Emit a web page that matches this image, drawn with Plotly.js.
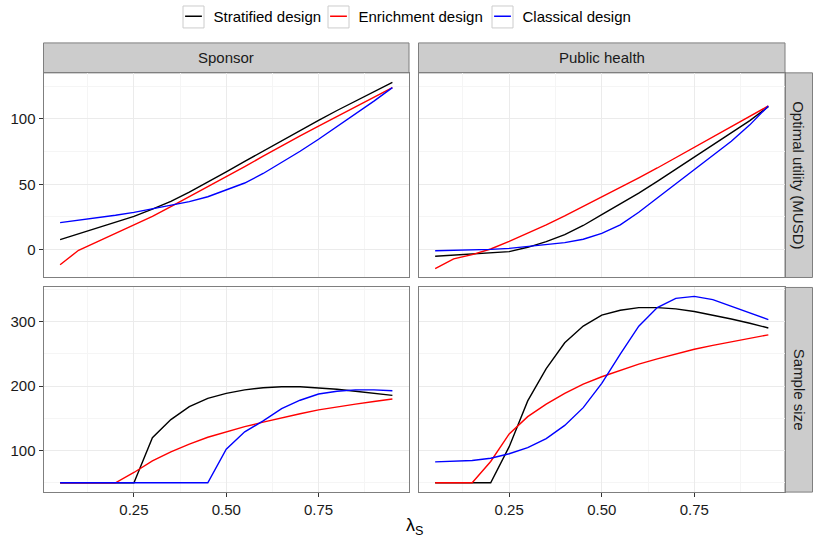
<!DOCTYPE html>
<html>
<head>
<meta charset="utf-8">
<script src="https://cdn.plot.ly/plotly-3.0.1.min.js"></script>
<style>html,body{margin:0;padding:0;background:#fff;}#chart{width:813px;height:540px;}</style>
</head>
<body>
<div id="chart"></div>
<script>
// ---- data ----
var lambdaS = [0.05,0.10,0.15,0.20,0.25,0.30,0.35,0.40,0.45,0.50,0.55,0.60,0.65,0.70,0.75,0.80,0.85,0.90,0.95];
var designs = ["Stratified design","Enrichment design","Classical design"];
var colTitles = ["Sponsor","Public health"];
var rowTitles = ["Optimal utility (MUSD)","Sample size"];
var xTicks = [0.25,0.50,0.75];
var xTickLabels = ["0.25","0.50","0.75"];
var utilTicks = [0,50,100];
var sizeTicks = [100,200,300];

var sponsorUtilStrat  = [7.7,12,16.5,21,25.5,31,37,44,51.5,59.5,67.5,75.5,83.5,91.5,99,106.5,113.5,120.8,128];
var sponsorUtilEnrich = [-11.5,-0.5,6,12.5,19,25.5,33,40.5,48,55.8,63.5,71.5,79.5,87,94.5,102,109.5,117,124];
var sponsorUtilClass  = [20.7,22.5,24.3,26.3,28.5,31.3,33.8,36.8,40.5,45.5,51,58.3,66.5,75.3,84.5,94,103.7,113.7,124];

var phUtilStrat  = [-5.1,-4.2,-3.3,-2.5,-1.5,1.8,6.2,11.5,18.5,26.8,34.8,43.2,52.2,61.4,70.6,79.8,89,98.8,109.4];
var phUtilEnrich = [-14.5,-7,-3.8,0.5,6.4,12.5,19,25.8,33,40.5,47.7,55,62.5,70.5,78.5,86.2,94,102,110];
var phUtilClass  = [-0.8,-0.6,-0.3,0.2,1,2.3,3.6,5.4,8,12.5,19,28.6,39.5,50.5,61.7,72.5,83,95.5,110];

var sponsorNStrat  = [50,50,50,50,50,120,148,168,181,188.7,194,197.4,199,199,197.4,195,192,188.7,185.6];
var sponsorNEnrich = [50,50,50,50,66,84,98,110,120.6,129,137,144,151,157,163,168,172,176,180];
var sponsorNClass  = [50,50,50,50,50,50,50,50,50,102,129,146,165,178,187.6,192,194,194,192.8];

var phNStrat  = [50,50,50,50,106,177,227,267,293,310,317.5,321.6,321.6,319.6,315.5,310,304,297.4,290];
var phNEnrich = [50,50,50,83,125.8,152.6,172,188.7,203,214.4,224.7,234,242,250,257,263,268.6,273.7,279.4];
var phNClass  = [82.5,83,84.5,88,95,104.6,118.6,139,166.5,204,249.5,292.8,321.6,336,339,334,323.7,313.4,303];

// ---- style ----
var colors = ["#000000","#FF0000","#0000FF"];
var W = 813, H = 540;
function px(x){return x/W;}
function py(y){return 1 - y/H;}
var FONT = "Liberation Sans, Arial, Helvetica, sans-serif";

var panels = [
  {xa:"x",  ya:"y",  series:[sponsorUtilStrat,sponsorUtilEnrich,sponsorUtilClass]},
  {xa:"x2", ya:"y2", series:[phUtilStrat,phUtilEnrich,phUtilClass]},
  {xa:"x3", ya:"y3", series:[sponsorNStrat,sponsorNEnrich,sponsorNClass]},
  {xa:"x4", ya:"y4", series:[phNStrat,phNEnrich,phNClass]}
];
var legendIds = ["legend","legend2","legend3"];
var traces = [];
panels.forEach(function(p, pi){
  p.series.forEach(function(s, si){
    traces.push({
      x: lambdaS, y: s, xaxis: p.xa, yaxis: p.ya, type: "scatter", mode: "lines",
      name: designs[si], line: {color: colors[si], width: 1.4},
      showlegend: false, legendgroup: designs[si], hoverinfo: "skip"
    });
  });
});
// legend entries (short horizontal key like ggplot)
designs.forEach(function(d, si){
  traces.push({
    x: [null], y: [null], xaxis: "x", yaxis: "y", type: "scatter", mode: "markers",
    name: d, legend: legendIds[si], legendgroup: d, showlegend: true, hoverinfo: "skip",
    marker: {symbol: "line-ew-open", size: 12, color: colors[si], line: {color: colors[si], width: 1.4}}
  });
});

var colDom = [[px(43.5), px(409)], [px(418.5), px(785)]];
var rowDom = [[py(277), py(72)], [py(492), py(287)]];
var BORDER = "#7F7F7F", GRID = "#EBEBEB", MINOR = "#F5F5F5";

function xAxis(col, anchor, bottom){
  return {
    domain: colDom[col], anchor: anchor, range: [0.005, 0.995],
    tickvals: xTicks, ticktext: xTickLabels, showticklabels: bottom,
    ticks: bottom ? "outside" : "", ticklen: 4, tickcolor: "#333333", tickwidth: 1,
    tickfont: {family: FONT, size: 15, color: "#1A1A1A"},
    showgrid: true, gridcolor: GRID, gridwidth: 1,
    minor: {tickvals: [0.125,0.375,0.625,0.875], showgrid: true, gridcolor: MINOR, gridwidth: 1, ticks: ""},
    zeroline: false, showline: true, mirror: true, linecolor: BORDER, linewidth: 1, fixedrange: true
  };
}
function yAxis(row, anchor, left, ticks, range, minorVals){
  return {
    domain: rowDom[row], anchor: anchor, range: range,
    tickvals: ticks, showticklabels: left,
    ticks: left ? "outside" : "", ticklen: 4, tickcolor: "#333333", tickwidth: 1,
    tickfont: {family: FONT, size: 15, color: "#1A1A1A"},
    showgrid: true, gridcolor: GRID, gridwidth: 1,
    minor: {tickvals: minorVals, showgrid: true, gridcolor: MINOR, gridwidth: 1, ticks: ""},
    zeroline: false, showline: true, mirror: true, linecolor: BORDER, linewidth: 1, fixedrange: true
  };
}
var utilRange = [-21.3, 135.3];
var sizeRange = [35.6, 352.8];

var stripFill = "#CCCCCC";
var legendOrigins = [173.5, 318.5, 482.5];
var shapes = [
  {type:"rect", xref:"paper", yref:"paper", x0:px(43.5), x1:px(409), y0:py(72), y1:py(42), fillcolor:stripFill, line:{color:BORDER,width:1}, layer:"below"},
  {type:"rect", xref:"paper", yref:"paper", x0:px(418.5), x1:px(785), y0:py(72), y1:py(42), fillcolor:stripFill, line:{color:BORDER,width:1}, layer:"below"},
  {type:"rect", xref:"paper", yref:"paper", x0:px(785), x1:px(812.5), y0:py(277), y1:py(72), fillcolor:stripFill, line:{color:BORDER,width:1}, layer:"below"},
  {type:"rect", xref:"paper", yref:"paper", x0:px(785), x1:px(812.5), y0:py(492), y1:py(287), fillcolor:stripFill, line:{color:BORDER,width:1}, layer:"below"}
];
legendOrigins.forEach(function(o){
  var c = o + 20;
  shapes.push({type:"rect", xref:"paper", yref:"paper", x0:px(c-10.5), x1:px(c+10.5), y0:py(27), y1:py(5),
               fillcolor:"rgba(0,0,0,0)", line:{color:"#CCCCCC", width:1}, layer:"below"});
});

var stripFont = {family: FONT, size: 15, color: "#1A1A1A"};
var annotations = [
  {text: colTitles[0], xref:"paper", yref:"paper", x:px(226.2), y:py(57), showarrow:false, font:stripFont, xanchor:"center", yanchor:"middle"},
  {text: colTitles[1], xref:"paper", yref:"paper", x:px(601.7), y:py(57), showarrow:false, font:stripFont, xanchor:"center", yanchor:"middle"},
  {text: rowTitles[0], xref:"paper", yref:"paper", x:px(799), y:py(174.5), showarrow:false, font:stripFont, textangle:90, xanchor:"center", yanchor:"middle"},
  {text: rowTitles[1], xref:"paper", yref:"paper", x:px(799), y:py(389.5), showarrow:false, font:stripFont, textangle:90, xanchor:"center", yanchor:"middle"},
  {text: "λ<sub>S</sub>", xref:"paper", yref:"paper", x:px(414), y:py(526), showarrow:false, font:{family:FONT, size:18, color:"#000000"}, xanchor:"center", yanchor:"middle"}
];

function legendCfg(xpx){
  return {x: px(xpx), xanchor:"left", y: py(16), yanchor:"middle", orientation:"h",
          font:{family:FONT, size:15, color:"#000000"}, bgcolor:"rgba(0,0,0,0)", borderwidth:0, itemwidth:30};
}

var layout = {
  width: W, height: H, margin: {l:0, r:0, t:0, b:0},
  paper_bgcolor: "#FFFFFF", plot_bgcolor: "#FFFFFF",
  font: {family: FONT},
  showlegend: true,
  legend: legendCfg(legendOrigins[0]), legend2: legendCfg(legendOrigins[1]), legend3: legendCfg(legendOrigins[2]),
  xaxis: xAxis(0, "y", false), xaxis2: xAxis(1, "y2", false),
  xaxis3: xAxis(0, "y3", true), xaxis4: xAxis(1, "y4", true),
  yaxis: yAxis(0, "x", true, utilTicks, utilRange, [-25,25,75,125]),
  yaxis2: yAxis(0, "x2", false, utilTicks, utilRange, [-25,25,75,125]),
  yaxis3: yAxis(1, "x3", true, sizeTicks, sizeRange, [50,150,250,350]),
  yaxis4: yAxis(1, "x4", false, sizeTicks, sizeRange, [50,150,250,350]),
  shapes: shapes, annotations: annotations
};
Plotly.newPlot("chart", traces, layout, {staticPlot: true, displayModeBar: false});
</script>
</body>
</html>
